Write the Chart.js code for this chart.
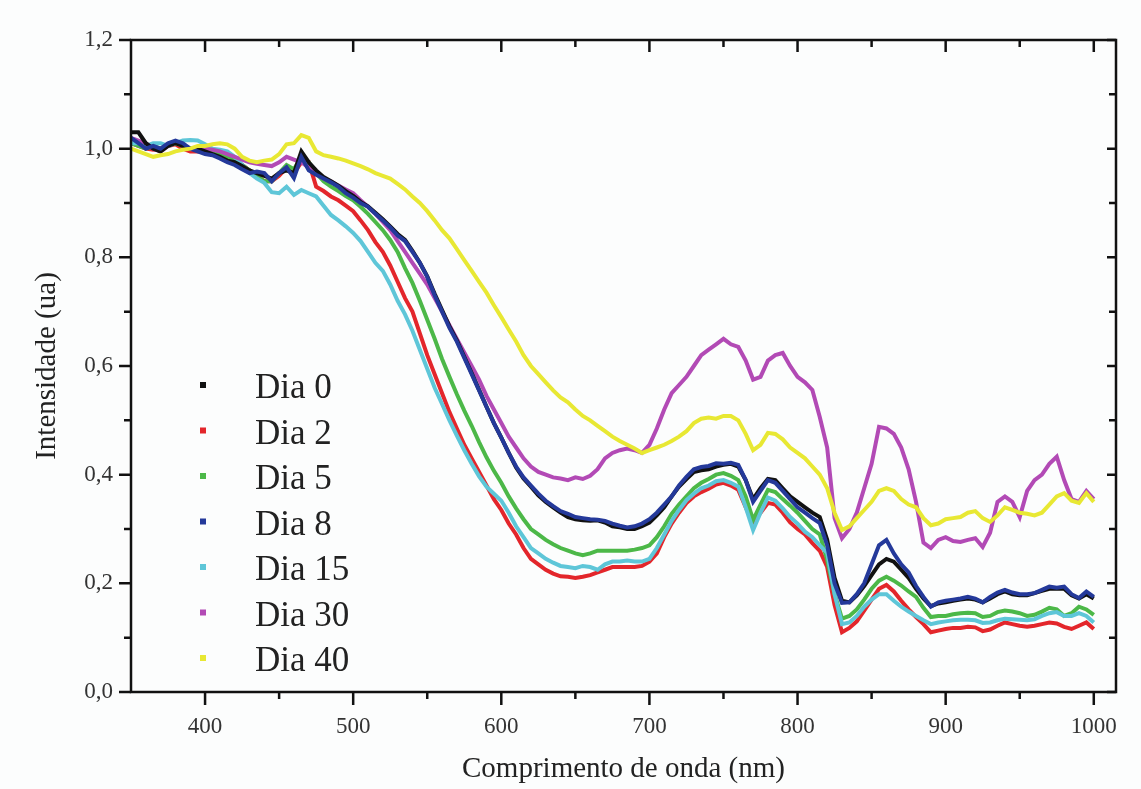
<!DOCTYPE html>
<html><head><meta charset="utf-8">
<script src="https://cdn.jsdelivr.net/npm/chart.js@4.4.1/dist/chart.umd.min.js"></script>
<style>html,body{margin:0;padding:0;background:#fcfdfd;} canvas{display:block;}</style>
</head><body>
<canvas id="c" width="1141" height="789"></canvas>
<script>
const wavelengths = [350,355,360,365,370,375,380,385,390,395,400,405,410,415,420,425,430,435,440,445,450,455,460,465,470,475,480,485,490,495,500,505,510,515,520,525,530,535,540,545,550,555,560,565,570,575,580,585,590,595,600,605,610,615,620,625,630,635,640,645,650,655,660,665,670,675,680,685,690,695,700,705,710,715,720,725,730,735,740,745,750,755,760,765,770,775,780,785,790,795,800,805,810,815,820,825,830,835,840,845,850,855,860,865,870,875,880,885,890,895,900,905,910,915,920,925,930,935,940,945,950,955,960,965,970,975,980,985,990,995,1000];

const dia0 = [1.03,1.03,1.01,1.0,0.995,1.005,1.01,1.005,1.0,1.0,0.995,0.99,0.985,0.978,0.975,0.968,0.96,0.955,0.95,0.945,0.955,0.96,0.955,0.995,0.975,0.96,0.948,0.94,0.932,0.922,0.913,0.902,0.894,0.882,0.87,0.857,0.843,0.832,0.812,0.79,0.765,0.733,0.703,0.673,0.647,0.617,0.587,0.556,0.525,0.495,0.468,0.44,0.413,0.393,0.378,0.362,0.35,0.34,0.33,0.322,0.318,0.316,0.315,0.316,0.312,0.305,0.303,0.3,0.3,0.305,0.312,0.325,0.34,0.36,0.378,0.392,0.405,0.408,0.41,0.415,0.418,0.42,0.415,0.39,0.355,0.375,0.392,0.39,0.375,0.36,0.35,0.34,0.33,0.322,0.28,0.21,0.168,0.165,0.178,0.195,0.215,0.235,0.245,0.24,0.225,0.21,0.19,0.172,0.158,0.163,0.165,0.168,0.17,0.172,0.17,0.165,0.172,0.18,0.185,0.18,0.178,0.178,0.182,0.186,0.19,0.19,0.19,0.178,0.172,0.18,0.172];

const dia2 = [1.01,1.005,1.0,0.998,1.0,1.005,1.008,1.0,0.995,0.995,0.995,0.99,0.99,0.985,0.978,0.97,0.96,0.95,0.94,0.94,0.95,0.965,0.955,0.975,0.975,0.93,0.922,0.912,0.905,0.895,0.885,0.868,0.85,0.828,0.81,0.785,0.755,0.725,0.7,0.66,0.62,0.585,0.55,0.515,0.485,0.455,0.43,0.405,0.38,0.355,0.335,0.31,0.29,0.265,0.245,0.235,0.225,0.218,0.213,0.212,0.21,0.212,0.215,0.22,0.225,0.23,0.23,0.23,0.23,0.232,0.24,0.255,0.285,0.31,0.33,0.348,0.36,0.368,0.374,0.382,0.385,0.38,0.372,0.34,0.31,0.33,0.348,0.345,0.33,0.312,0.3,0.29,0.274,0.26,0.23,0.16,0.11,0.118,0.13,0.15,0.17,0.19,0.197,0.185,0.168,0.152,0.138,0.125,0.11,0.113,0.116,0.118,0.118,0.12,0.119,0.112,0.115,0.122,0.128,0.125,0.122,0.12,0.122,0.125,0.128,0.126,0.12,0.116,0.122,0.128,0.116];

const dia5 = [1.01,1.005,1.0,1.005,1.0,1.005,1.01,1.005,1.0,0.998,0.995,0.992,0.99,0.985,0.978,0.97,0.96,0.95,0.94,0.94,0.955,0.97,0.962,0.985,0.975,0.955,0.94,0.93,0.922,0.913,0.905,0.893,0.88,0.865,0.85,0.832,0.81,0.78,0.753,0.72,0.685,0.65,0.613,0.58,0.548,0.518,0.49,0.46,0.432,0.407,0.385,0.36,0.338,0.318,0.3,0.29,0.28,0.272,0.265,0.26,0.255,0.252,0.255,0.26,0.26,0.26,0.26,0.26,0.262,0.265,0.27,0.285,0.305,0.328,0.345,0.36,0.375,0.385,0.392,0.4,0.403,0.398,0.39,0.36,0.317,0.345,0.372,0.368,0.355,0.343,0.33,0.315,0.3,0.29,0.243,0.18,0.135,0.14,0.152,0.17,0.19,0.205,0.212,0.205,0.196,0.185,0.175,0.155,0.138,0.14,0.14,0.143,0.145,0.146,0.145,0.138,0.14,0.147,0.15,0.148,0.145,0.14,0.142,0.148,0.155,0.152,0.14,0.145,0.157,0.152,0.142];

const dia8 = [1.02,1.01,1.0,1.005,1.0,1.01,1.015,1.01,1.0,0.995,0.99,0.988,0.982,0.975,0.97,0.962,0.955,0.958,0.955,0.94,0.955,0.966,0.946,0.985,0.96,0.952,0.945,0.938,0.93,0.918,0.91,0.9,0.893,0.88,0.868,0.855,0.84,0.83,0.81,0.79,0.764,0.73,0.7,0.67,0.645,0.615,0.585,0.555,0.525,0.495,0.468,0.44,0.415,0.395,0.38,0.365,0.352,0.342,0.333,0.328,0.322,0.32,0.318,0.317,0.315,0.31,0.306,0.303,0.305,0.31,0.318,0.33,0.345,0.36,0.38,0.396,0.41,0.414,0.416,0.421,0.42,0.422,0.418,0.39,0.35,0.37,0.39,0.385,0.37,0.355,0.34,0.33,0.32,0.311,0.27,0.2,0.164,0.165,0.18,0.2,0.235,0.27,0.28,0.255,0.235,0.22,0.195,0.175,0.157,0.165,0.168,0.17,0.172,0.175,0.172,0.165,0.175,0.183,0.188,0.183,0.18,0.18,0.182,0.188,0.194,0.192,0.194,0.18,0.173,0.185,0.175];

const dia15 = [1.01,1.01,1.005,1.01,1.01,1.005,1.01,1.015,1.016,1.015,1.008,1.0,0.998,0.995,0.985,0.97,0.955,0.945,0.937,0.92,0.918,0.93,0.915,0.924,0.918,0.912,0.895,0.878,0.868,0.857,0.845,0.83,0.81,0.79,0.775,0.75,0.72,0.695,0.665,0.63,0.595,0.56,0.53,0.5,0.472,0.445,0.42,0.397,0.378,0.365,0.352,0.33,0.305,0.285,0.265,0.255,0.245,0.238,0.232,0.23,0.228,0.232,0.23,0.225,0.235,0.24,0.24,0.242,0.24,0.24,0.245,0.265,0.29,0.315,0.335,0.353,0.365,0.375,0.38,0.388,0.39,0.385,0.378,0.34,0.298,0.33,0.358,0.352,0.338,0.322,0.31,0.295,0.285,0.27,0.256,0.18,0.125,0.128,0.14,0.157,0.17,0.18,0.18,0.168,0.157,0.148,0.14,0.132,0.125,0.128,0.13,0.132,0.133,0.133,0.132,0.127,0.128,0.132,0.135,0.134,0.133,0.132,0.134,0.14,0.145,0.147,0.14,0.14,0.145,0.14,0.128];

const dia30 = [1.02,1.015,1.01,1.0,0.995,1.005,1.012,1.005,1.0,1.0,1.0,0.998,0.995,0.99,0.985,0.98,0.975,0.972,0.97,0.968,0.975,0.985,0.98,0.975,0.965,0.955,0.945,0.94,0.932,0.925,0.918,0.905,0.893,0.88,0.865,0.85,0.83,0.81,0.79,0.77,0.75,0.725,0.7,0.675,0.65,0.625,0.6,0.575,0.545,0.52,0.495,0.47,0.45,0.43,0.415,0.405,0.4,0.395,0.393,0.39,0.395,0.392,0.398,0.41,0.43,0.44,0.445,0.448,0.445,0.44,0.455,0.485,0.52,0.55,0.565,0.58,0.6,0.62,0.63,0.64,0.65,0.64,0.635,0.61,0.575,0.58,0.61,0.62,0.624,0.6,0.58,0.57,0.556,0.506,0.45,0.32,0.283,0.3,0.33,0.375,0.42,0.488,0.485,0.475,0.45,0.41,0.35,0.275,0.265,0.28,0.285,0.278,0.276,0.28,0.283,0.267,0.293,0.35,0.36,0.35,0.322,0.37,0.39,0.4,0.42,0.433,0.39,0.355,0.35,0.37,0.355];

const dia40 = [1.0,0.995,0.99,0.985,0.988,0.99,0.995,0.998,1.0,1.005,1.005,1.008,1.01,1.008,1.0,0.985,0.978,0.975,0.978,0.98,0.99,1.008,1.01,1.025,1.02,0.995,0.988,0.985,0.982,0.978,0.973,0.968,0.962,0.955,0.95,0.945,0.935,0.925,0.912,0.9,0.885,0.868,0.85,0.835,0.815,0.795,0.775,0.755,0.735,0.712,0.69,0.667,0.645,0.62,0.6,0.585,0.57,0.555,0.542,0.533,0.52,0.508,0.5,0.49,0.48,0.47,0.462,0.455,0.448,0.44,0.445,0.45,0.455,0.462,0.47,0.48,0.495,0.503,0.505,0.503,0.508,0.508,0.5,0.475,0.445,0.455,0.477,0.475,0.465,0.45,0.44,0.43,0.415,0.4,0.375,0.33,0.298,0.305,0.32,0.335,0.35,0.37,0.375,0.37,0.355,0.345,0.34,0.32,0.307,0.31,0.318,0.32,0.322,0.33,0.333,0.32,0.313,0.325,0.34,0.335,0.33,0.328,0.325,0.33,0.345,0.36,0.366,0.352,0.348,0.366,0.35];

const seriesLabels = ['Dia 0','Dia 2','Dia 5','Dia 8','Dia 15','Dia 30','Dia 40'];
const seriesValues = [dia0, dia2, dia5, dia8, dia15, dia30, dia40];
const seriesColors = ['#111111','#e3262b','#4cb848','#24399a','#5ec6d8','#b24ab5','#e8e833'];
const drawOrder = [2, 6, 5, 1, 4, 3, 0];
const xMajorTicks = [400,500,600,700,800,900,1000];
const xMinorTicks = [450,550,650,750,850,950];
const yMajorTicks = [0,0.2,0.4,0.6,0.8,1.0,1.2];
const yMinorTicks = [0.1,0.3,0.5,0.7,0.9,1.1];

const framePlugin = {
  id: 'frame',
  afterDatasetsDraw(chart) {
    const {ctx, chartArea: a, scales: {x, y}} = chart;
    ctx.save();
    ctx.strokeStyle = '#111';
    ctx.lineWidth = 2.5;
    ctx.strokeRect(a.left, a.top, a.right - a.left, a.bottom - a.top);
    ctx.beginPath();
    xMajorTicks.forEach(v => { const p = x.getPixelForValue(v);
      ctx.moveTo(p, a.bottom); ctx.lineTo(p, a.bottom + 13);
      ctx.moveTo(p, a.top); ctx.lineTo(p, a.top + 12); });
    xMinorTicks.forEach(v => { const p = x.getPixelForValue(v);
      ctx.moveTo(p, a.bottom); ctx.lineTo(p, a.bottom + 7);
      ctx.moveTo(p, a.top); ctx.lineTo(p, a.top + 7); });
    yMajorTicks.forEach(v => { const p = y.getPixelForValue(v);
      ctx.moveTo(a.left, p); ctx.lineTo(a.left - 12, p);
      ctx.moveTo(a.right, p); ctx.lineTo(a.right - 9, p); });
    yMinorTicks.forEach(v => { const p = y.getPixelForValue(v);
      ctx.moveTo(a.left, p); ctx.lineTo(a.left - 7, p);
      ctx.moveTo(a.right, p); ctx.lineTo(a.right - 7, p); });
    ctx.stroke();
    ctx.restore();
  }
};

const legendPlugin = {
  id: 'innerLegend',
  afterDraw(chart) {
    const {ctx} = chart;
    ctx.save();
    chart.data.datasets.forEach((ds, i) => {
      const my = 385 + i * 45.5;
      ctx.fillStyle = ds.borderColor;
      ctx.fillRect(200, my - 3, 6, 6);
      ctx.fillStyle = '#222';
      ctx.font = '35px "Liberation Serif", serif';
      ctx.textBaseline = 'alphabetic';
      ctx.textAlign = 'left';
      ctx.fillText(ds.label, 255, my + 13);
    });
    ctx.restore();
  }
};

const datasets = seriesLabels.map((lab, i) => ({
  label: lab,
  data: wavelengths.map((w, j) => ({x: w, y: seriesValues[i][j]})),
  borderColor: seriesColors[i],
  backgroundColor: seriesColors[i],
  borderWidth: 4,
  pointRadius: 0,
  tension: 0,
  fill: false,
  order: drawOrder[i]
}));

new Chart(document.getElementById('c'), {
  type: 'line',
  data: {datasets},
  plugins: [framePlugin, legendPlugin],
  options: {
    responsive: false,
    animation: false,
    devicePixelRatio: 1,
    layout: {padding: {top: 40, right: 25, left: 0, bottom: 0}},
    plugins: {legend: {display: false}, tooltip: {enabled: false}},
    scales: {
      x: {
        type: 'linear', min: 350, max: 1015,
        afterBuildTicks(s) { s.ticks = xMajorTicks.map(v => ({value: v})); },
        afterFit(s) { s.height = 97; },
        grid: {display: true, drawOnChartArea: false, color: 'rgba(0,0,0,0)', tickLength: 12},
        border: {display: false},
        ticks: {
          padding: 9, color: '#333',
          font: {family: '"Liberation Serif", serif', size: 23},
          maxRotation: 0, autoSkip: false,
          callback: v => String(Math.round(v))
        },
        title: {display: true, text: 'Comprimento de onda (nm)', color: '#222',
          font: {family: '"Liberation Serif", serif', size: 29}, padding: {top: 0, bottom: 2}}
      },
      y: {
        type: 'linear', min: 0, max: 1.2,
        afterBuildTicks(s) { s.ticks = yMajorTicks.map(v => ({value: v})); },
        afterFit(s) { s.width = 131; },
        grid: {display: true, drawOnChartArea: false, color: 'rgba(0,0,0,0)', tickLength: 12},
        border: {display: false},
        ticks: {
          padding: 6, color: '#333',
          font: {family: '"Liberation Serif", serif', size: 23},
          autoSkip: false,
          callback: v => v.toFixed(1).replace('.', ',')
        },
        title: {display: true, text: 'Intensidade (ua)', color: '#222',
          font: {family: '"Liberation Serif", serif', size: 29}, padding: {top: 30, bottom: 0}}
      }
    }
  }
});
</script>
</body></html>
